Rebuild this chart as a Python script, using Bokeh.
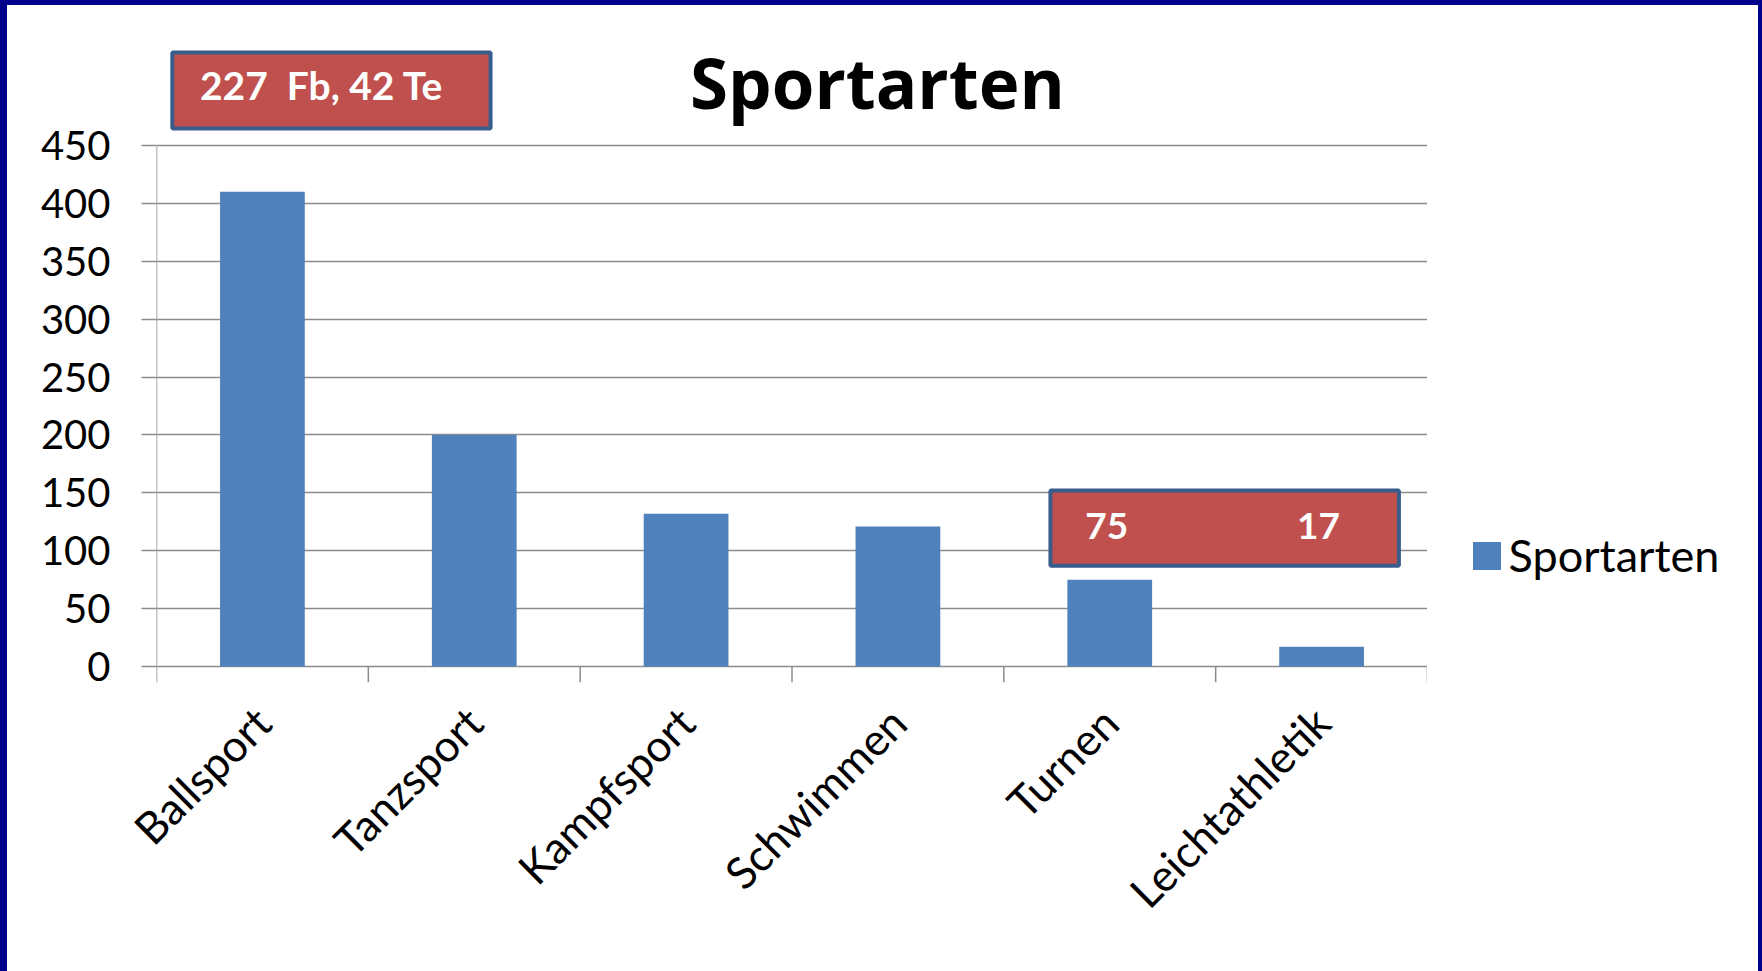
import math
from bokeh.plotting import figure
from bokeh.layouts import row
from bokeh.models import Range1d, GlobalInlineStyleSheet, Legend, LegendItem
from bokeh.core.properties import value
from bokeh.embed import file_html
from bokeh.resources import INLINE

# ---- data ----
categories = ["Ballsport", "Tanzsport", "Kampfsport", "Schwimmen", "Turnen", "Leichtathletik"]
values = [410, 200, 132, 121, 75, 17]
y_ticks = [0, 50, 100, 150, 200, 250, 300, 350, 400, 450]
series_name = "Sportarten"
title_text = "Sportarten"
note_ballsport = "227\u00a0 Fb, 42 Te"
note_categories = ["Turnen", "Leichtathletik"]
note_values = [75, 17]

# ---- layout constants ----
W_MAIN, W_LEG, H = 1420, 331, 966
Y_START, Y_END = -13.82, 570.9
GRID = "#8c8c8c"
BAR = "#4F81BD"
NOTE_FILL = "#C0504D"
NOTE_LINE = "#385D8A"
FONT = "Lato"

p = figure(x_range=categories, y_range=Range1d(Y_START, Y_END),
           width=W_MAIN, height=H, output_backend="svg", toolbar_location=None,
           min_border_left=149, min_border_right=0, min_border_top=0, min_border_bottom=289)
p.title.visible = False
p.outline_line_color = None
p.background_fill_color = "white"
p.border_fill_color = "white"
p.styles = {"background-color": "white"}

# grid / axes
p.xgrid.visible = False
p.yaxis.ticker = y_ticks
p.ygrid.grid_line_color = GRID
p.ygrid.grid_line_width = 1.5

p.yaxis.axis_line_color = None
p.yaxis.major_tick_out = 15
p.yaxis.major_tick_in = 0
p.yaxis.major_tick_line_color = GRID
p.yaxis.major_tick_line_width = 1.5
p.yaxis.minor_tick_line_color = None
p.yaxis.major_label_text_font = FONT
p.yaxis.major_label_text_font_size = "40px"
p.yaxis.major_label_text_color = "black"
p.yaxis.major_label_standoff = 31

p.xaxis.axis_line_color = None
p.xaxis.major_tick_line_color = None
p.xaxis.major_tick_out = 0
p.xaxis.major_tick_in = 0
p.xaxis.major_label_orientation = math.pi / 4
p.xaxis.major_label_text_font = FONT
p.xaxis.major_label_text_font_size = "44px"
p.xaxis.major_label_text_color = "black"
p.xaxis.major_label_standoff = 32

# y axis line and category boundary ticks
p.segment(x0=[0], y0=[Y_START], x1=[0], y1=[y_ticks[-1]], line_color=GRID, line_width=1.5)
bounds = list(range(1, len(categories) + 1))
p.segment(x0=bounds, y0=[0] * len(bounds), x1=bounds, y1=[Y_START] * len(bounds),
          line_color=GRID, line_width=1.5)

# bars
bars = p.vbar(x=categories, top=values, width=0.4, fill_color=BAR, line_color=None)

# title
p.text(x=[3.403], y=[505.0], text=[title_text], text_font=value("Open Sans"), text_font_style="bold",
       text_font_size="69px", text_color="black", text_align="center", text_baseline="alphabetic")

# note boxes
p.quad(left=[0.0746], right=[1.577], bottom=[464.7], top=[530.3],
       fill_color=NOTE_FILL, line_color=NOTE_LINE, line_width=4)
p.text(x=[0.205], y=[502.0], text=[note_ballsport], text_font=value(FONT), text_font_style="bold",
       text_font_size="39px", text_color="white", text_align="left", text_baseline="alphabetic")

p.quad(left=[4.22], right=[5.865], bottom=[87], top=[152],
       fill_color=NOTE_FILL, line_color=NOTE_LINE, line_width=4)
p.text(x=note_categories, y=[121.3] * len(note_categories), text=[str(v) for v in note_values],
       text_font=value(FONT), text_font_style="bold", text_font_size="37px", text_color="white",
       text_align="center", text_baseline="alphabetic", x_offset=-3)

# legend panel (separate canvas to the right of the plot; frames are aligned in the row)
p2 = figure(width=W_LEG, height=H, x_range=Range1d(0, 1), y_range=Range1d(0, 1),
            output_backend="svg", toolbar_location=None, min_border=0,
            x_axis_location=None, y_axis_location=None)
p2.title.visible = False
p2.grid.visible = False
p2.outline_line_color = None
p2.background_fill_color = "white"
p2.border_fill_color = "white"
p2.styles = {"background-color": "white"}
# swatch renderer kept outside the visible range; it only feeds the legend
swatch = p2.vbar(x=[5], top=[1], width=0.4, fill_color=BAR, line_color=None)

lg = Legend(items=[LegendItem(label=series_name, renderers=[swatch])], location=(41.5, 100))
lg.padding = 0
lg.margin = 0
lg.spacing = 0
lg.glyph_width = 35
lg.glyph_height = 35
lg.label_standoff = 5
lg.label_text_font = FONT
lg.label_text_font_size = "45px"
lg.label_text_color = "black"
lg.border_line_color = None
lg.background_fill_alpha = 0
p2.add_layout(lg)

layout = row(p, p2, spacing=0)
layout.stylesheets = [GlobalInlineStyleSheet(css=(
    "html, body { margin: 0; background-color: #00008B; overflow: hidden; }"
    " body { box-sizing: border-box; padding: 5px 0 0 7px; }"))]

open("out.html", "w").write(file_html(layout, INLINE))
